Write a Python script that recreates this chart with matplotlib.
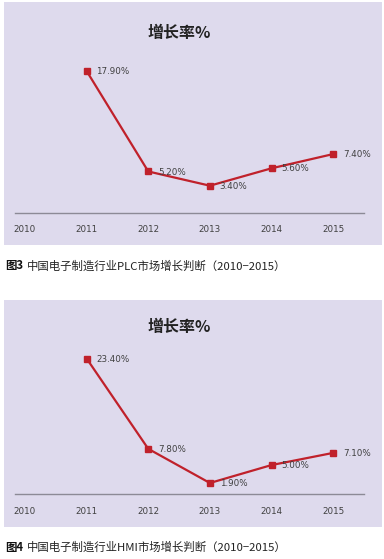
import matplotlib
matplotlib.use("Agg")
import matplotlib.pyplot as plt
from matplotlib.patches import Rectangle

plt.rcParams['font.family'] = ['Noto Sans CJK SC', 'DejaVu Sans']

# data
years = ['2010', '2011', '2012', '2013', '2014', '2015']
plc_growth = [None, 17.9, 5.2, 3.4, 5.6, 7.4]
hmi_growth = [None, 23.4, 7.8, 1.9, 5.0, 7.1]
chart_title = '增长率%'
captions = [('图3', '中国电子制造行业PLC市场增长判断（2010−2015）'),
            ('图4', '中国电子制造行业HMI市场增长判断（2010−2015）')]

W, H = 384, 559
BG = '#dedaed'
RED = '#c0212b'
TXT = '#404040'

fig = plt.figure(figsize=(W / 100, H / 100), dpi=100)


def px_box(x0, y0, x1, y1):
    # pixel box (top-left origin) -> figure fraction [l, b, w, h]
    return [x0 / W, 1 - y1 / H, (x1 - x0) / W, (y1 - y0) / H]


def draw_panel(values, panel, axis_y, scale, ymax, title_y, cap_y, caption):
    # background card, kept under the axes
    l, b, w, h = px_box(*panel)
    fig.patches.append(Rectangle((l, b), w, h, transform=fig.transFigure,
                                 facecolor=BG, edgecolor='none', zorder=-5))
    top = axis_y - ymax * scale
    ax = fig.add_axes(px_box(15, top, 364, axis_y))
    ax.patch.set_alpha(0)
    xs = [i for i, v in enumerate(values) if v is not None]
    ys = [v for v in values if v is not None]
    ax.plot(xs, ys, color=RED, lw=1.6, marker='s', ms=5, mec=RED,
            mfc=RED, clip_on=False, zorder=3)
    for x, y in zip(xs, ys):
        ax.annotate(f'{y:.2f}%', (x, y), xytext=(7, -0.5),
                    textcoords='offset points', fontsize=6.3, color=TXT,
                    va='center', ha='left', family=['DejaVu Sans'])
    ax.set_xlim(-0.162, 5.5)
    ax.set_ylim(0, ymax)
    ax.set_xticks(range(len(years)))
    ax.set_xticklabels(years, fontsize=6.3, color=TXT, family=['DejaVu Sans'])
    ax.tick_params(axis='x', length=0, pad=9)
    ax.set_yticks([])
    for s in ['top', 'left', 'right']:
        ax.spines[s].set_visible(False)
    ax.spines['bottom'].set_color('#8c8a96')
    ax.spines['bottom'].set_linewidth(1.0)
    fig.text(179 / W, 1 - title_y / H, chart_title, fontsize=11.5,
             fontweight='bold', color='#222222', ha='center', va='center')
    fig.text(5 / W, 1 - cap_y / H, caption[0], fontsize=8.2,
             fontweight='bold', color='#111111', ha='left', va='center')
    fig.text(27 / W, 1 - cap_y / H, caption[1], fontsize=8.2,
             color='#222222', ha='left', va='center')


draw_panel(plc_growth, (4, 2, 382, 245), 212.6, 7.91, 20.5, 33, 266, captions[0])
draw_panel(hmi_growth, (4, 300, 382, 527), 494.0, 5.79, 27.0, 327, 547, captions[1])

fig.savefig('out.png', dpi=100)
